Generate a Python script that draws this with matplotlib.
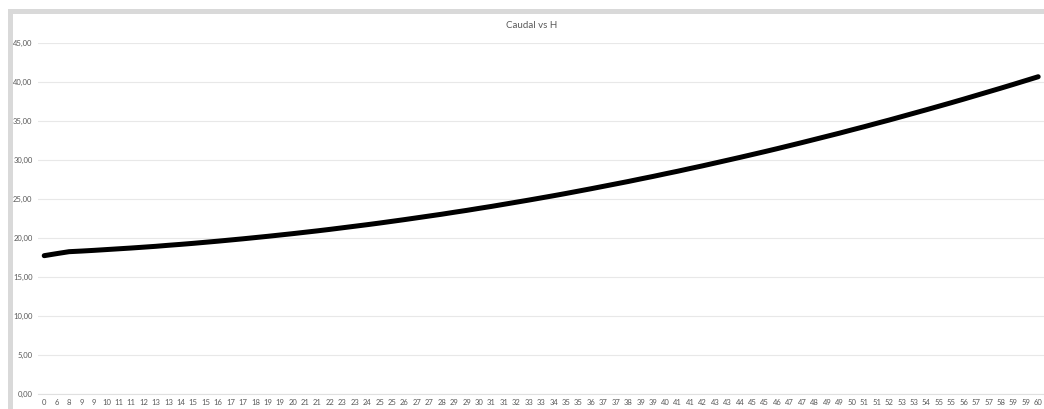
import matplotlib
matplotlib.use("Agg")
import matplotlib.pyplot as plt
from matplotlib.patches import Rectangle
from matplotlib.ticker import FuncFormatter, FixedLocator

plt.rcParams['font.family'] = ['Lato', 'DejaVu Sans']

title = "Caudal vs H"

h_labels = ["0", "6", "8", "9", "9", "10", "11", "11", "12", "13", "13", "14", "15", "15",
            "16", "17", "17", "18", "19", "19", "20", "21", "21", "22", "23", "23", "24",
            "25", "25", "26", "27", "27", "28", "29", "29", "30", "31", "31", "32", "33",
            "33", "34", "35", "35", "36", "37", "37", "38", "39", "39", "40", "41", "41",
            "42", "43", "43", "44", "45", "45", "46", "47", "47", "48", "49", "49", "50",
            "51", "51", "52", "53", "53", "54", "55", "55", "56", "57", "57", "58", "59",
            "59", "60"]

caudal = [17.72, 17.98, 18.23, 18.31, 18.40, 18.50, 18.60, 18.70, 18.81, 18.92,
          19.05, 19.17, 19.30, 19.44, 19.58, 19.73, 19.88, 20.04, 20.20, 20.37,
          20.54, 20.72, 20.90, 21.09, 21.29, 21.49, 21.69, 21.90, 22.12, 22.34,
          22.57, 22.80, 23.03, 23.28, 23.52, 23.78, 24.03, 24.30, 24.57, 24.84,
          25.12, 25.40, 25.69, 25.99, 26.29, 26.60, 26.91, 27.22, 27.55, 27.87,
          28.21, 28.54, 28.89, 29.23, 29.59, 29.95, 30.31, 30.68, 31.05, 31.43,
          31.82, 32.21, 32.61, 33.01, 33.41, 33.83, 34.24, 34.67, 35.09, 35.53,
          35.97, 36.41, 36.86, 37.31, 37.77, 38.24, 38.71, 39.18, 39.66, 40.15,
          40.64]

y_ticks = [0, 5, 10, 15, 20, 25, 30, 35, 40, 45]

W, H = 1044, 409
fig = plt.figure(figsize=(W / 100, H / 100), dpi=100)
fig.patch.set_facecolor("white")

# chart area border (grey frame, cut at right/bottom)
fig.patches.append(Rectangle((9.5 / W, -0.1), 1.2, 1.1 - 11.5 / H,
                             transform=fig.transFigure, fill=False,
                             edgecolor="#d9d9d9", linewidth=3.6, zorder=0))

left, right = 38 / W, 1044.4 / W
bottom, top = 1 - 394 / H, 1 - 42.7 / H
ax = fig.add_axes([left, bottom, right - left, top - bottom])
ax.set_facecolor("none")

x = list(range(len(caudal)))
ax.plot(x, caudal, color="black", linewidth=3.6, solid_capstyle="round",
        solid_joinstyle="round", zorder=3)

ax.set_xlim(-0.5, len(caudal) - 0.5)
ax.set_ylim(0, 45)
ax.yaxis.set_major_locator(FixedLocator(y_ticks))
ax.yaxis.set_major_formatter(FuncFormatter(lambda v, p: f"{v:.2f}".replace(".", ",")))
ax.set_xticks(x)
ax.set_xticklabels(h_labels)

ax.grid(axis="y", color="#e8e8e8", linewidth=0.8, zorder=0)
ax.grid(axis="x", visible=False)
for s in ["top", "right", "left"]:
    ax.spines[s].set_visible(False)
ax.spines["bottom"].set_color("#e0e0e0")
ax.spines["bottom"].set_linewidth(0.8)

ax.tick_params(axis="both", length=0, colors="#595959", labelsize=5.5)
ax.tick_params(axis="x", pad=3.5)
ax.tick_params(axis="y", pad=4)

fig.text(531.5 / W, 1 - 26 / H, title, ha="center", va="center",
         fontsize=7, color="#595959")

fig.savefig("out.png", dpi=100, facecolor="white")
